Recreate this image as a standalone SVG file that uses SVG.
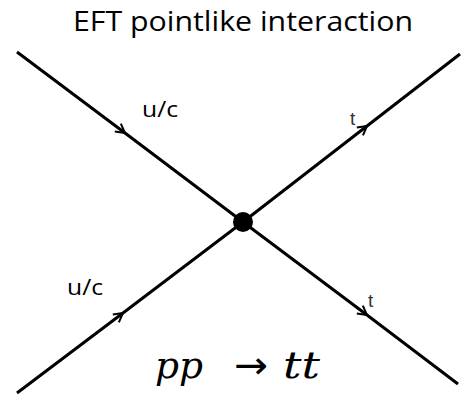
<svg xmlns="http://www.w3.org/2000/svg" width="461" height="396" viewBox="0 0 461 396">
<style>
.ln{fill:none;stroke:#000;stroke-width:3;stroke-linecap:butt}
.ttl{font-family:"Open Sans","Liberation Sans",sans-serif;font-size:28px;fill:#000}
.lbl{font-family:"Open Sans","Liberation Sans",sans-serif;font-size:22px;fill:#000}
.tl{font-family:"Liberation Sans",Arial,sans-serif;font-size:19px;fill:#333}
.eq{font-family:"DejaVu Serif","Liberation Serif",serif;font-size:38px;font-style:italic;fill:#000}
.ar{font-family:"DejaVu Sans","Liberation Sans",sans-serif;font-size:38px;fill:#000}
</style>
<defs>
<marker id="arr" markerUnits="userSpaceOnUse" markerWidth="20" markerHeight="20" refX="0" refY="0" viewBox="-12 -10 20 20" orient="auto">
<path d="M-9,-5 L0,0 L-9,5" fill="none" stroke="#000" stroke-width="2"/>
</marker>
</defs>
<rect width="461" height="396" fill="#fff"/>
<text class="ttl" x="73" y="31" textLength="340" lengthAdjust="spacingAndGlyphs">EFT pointlike interaction</text>
<g id="connectors">
<polyline id="e1" class="ln" points="17,52 125,133 243,222" marker-mid="url(#arr)"/>
<polyline id="e2" class="ln" points="17,393 123,313 243,222" marker-mid="url(#arr)"/>
<polyline id="e3" class="ln" points="243,222 367,126 460,54" marker-mid="url(#arr)"/>
<polyline id="e4" class="ln" points="243,222 367,315 458,384" marker-mid="url(#arr)"/>
</g>
<g id="vertex"><circle cx="243" cy="222" r="10" fill="#000"/></g>
<g id="labels">
<text class="lbl" x="142" y="117" textLength="36" lengthAdjust="spacingAndGlyphs">u/c</text>
<text class="lbl" x="67" y="295" textLength="36" lengthAdjust="spacingAndGlyphs">u/c</text>
<text class="tl" x="350" y="125">t</text>
<text class="tl" x="368" y="307">t</text>
</g>
<g id="equation">
<text class="eq" x="155" y="378" textLength="48" lengthAdjust="spacingAndGlyphs">pp</text>
<text class="ar" x="234" y="378" textLength="34" lengthAdjust="spacingAndGlyphs">→</text>
<text class="eq" x="283" y="378" textLength="37" lengthAdjust="spacingAndGlyphs">tt</text>
</g>
</svg>
